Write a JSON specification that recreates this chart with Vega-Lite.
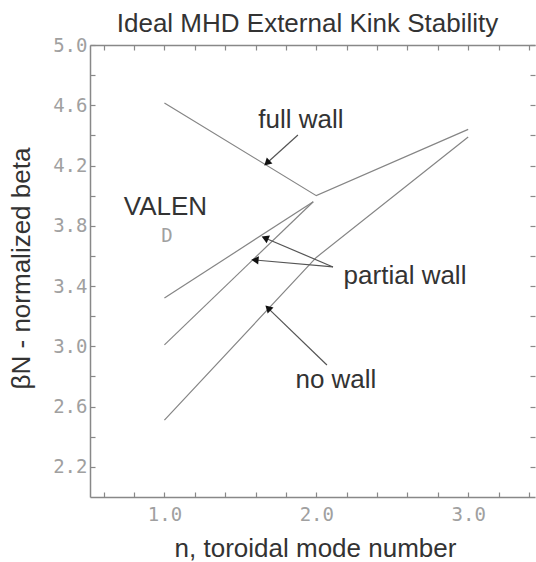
{
  "$schema": "https://vega.github.io/schema/vega-lite/v6.json",
  "width": 445,
  "height": 452,
  "autosize": "none",
  "padding": {"left": 90, "top": 45, "right": 1, "bottom": 65},
  "background": "white",
  "title": {"text": "Ideal MHD External Kink Stability", "fontSize": 26, "font": "Liberation Sans", "fontWeight": "normal", "color": "#333333", "frame": "group", "offset": -1, "dx": -5},
  "config": {"view": {"stroke": null}},
  "datasets": {
    "curves": [
      {"series": "full wall", "n": 1.0, "beta": 4.615},
      {"series": "full wall", "n": 2.0, "beta": 4.0},
      {"series": "full wall", "n": 3.0, "beta": 4.44},
      {"series": "partial wall A", "n": 1.0, "beta": 3.32},
      {"series": "partial wall A", "n": 1.98, "beta": 3.96},
      {"series": "partial wall B", "n": 1.0, "beta": 3.01},
      {"series": "partial wall B", "n": 1.98, "beta": 3.96},
      {"series": "no wall", "n": 1.0, "beta": 2.51},
      {"series": "no wall", "n": 2.0, "beta": 3.59},
      {"series": "no wall", "n": 3.0, "beta": 4.39}
    ],
    "arrows": [
      {"arrow": "full wall", "x0": 1.879, "y0": 4.403, "x1": 1.675, "y1": 4.217},
      {"arrow": "partial 1", "x0": 2.11, "y0": 3.527, "x1": 1.662, "y1": 3.719},
      {"arrow": "partial 2", "x0": 2.11, "y0": 3.527, "x1": 1.596, "y1": 3.573},
      {"arrow": "no wall", "x0": 2.07, "y0": 2.876, "x1": 1.682, "y1": 3.254}
    ],
    "labels": [
      {"text": "full wall", "n": 1.899, "beta": 4.502},
      {"text": "VALEN", "n": 1.007, "beta": 3.925},
      {"text": "partial wall", "n": 2.584, "beta": 3.467},
      {"text": "no wall", "n": 2.129, "beta": 2.777}
    ],
    "small": [
      {"text": "D", "n": 1.017, "beta": 3.732}
    ]
  },
  "layer": [
    {
      "data": {"name": "curves"},
      "mark": {"type": "line", "color": "#858585", "strokeWidth": 1.2},
      "encoding": {
        "x": {
          "field": "n", "type": "quantitative",
          "scale": {"domain": [0.51, 3.44], "nice": false, "zero": false},
          "axis": {
            "orient": "bottom",
            "title": "n, toroidal mode number",
            "titleFont": "Liberation Sans", "titleFontSize": 26, "titleFontWeight": "normal", "titleColor": "#333333",
            "titleBaseline": "alphabetic", "titleY": 59, "titleAnchor": "middle", "titleX": 225,
            "values": [0.6, 0.8, 1.0, 1.2, 1.4, 1.6, 1.8, 2.0, 2.2, 2.4, 2.6, 2.8, 3.0, 3.2, 3.4],
            "labelExpr": "(abs(datum.value-1)<0.01 || abs(datum.value-2)<0.01 || abs(datum.value-3)<0.01) ? format(datum.value, '.1f') : ''",
            "labelFont": "DejaVu Sans Mono", "labelFontSize": 19, "labelColor": "#a0a0a0",
            "labelPadding": 13, "tickSize": -5, "tickColor": "#888888", "tickWidth": 1.2,
            "domainColor": "#888888", "domainWidth": 1.5, "grid": false, "labelFlush": false, "labelOverlap": false
          }
        },
        "y": {
          "field": "beta", "type": "quantitative",
          "scale": {"domain": [2.0, 5.0], "nice": false, "zero": false},
          "axis": {
            "orient": "left",
            "title": "βN - normalized beta",
            "titleFont": "Liberation Sans", "titleFontSize": 26, "titleFontWeight": "normal", "titleColor": "#333333",
            "titleAngle": 270, "titleBaseline": "alphabetic", "titleX": -61, "titleY": 223, "titleAnchor": "middle",
            "values": [2.2, 2.4, 2.6, 2.8, 3.0, 3.2, 3.4, 3.6, 3.8, 4.0, 4.2, 4.4, 4.6, 4.8, 5.0],
            "labelExpr": "indexof(['2.2','2.6','3.0','3.4','3.8','4.2','4.6','5.0'], format(datum.value, '.1f')) >= 0 ? format(datum.value, '.1f') : ''",
            "labelFont": "DejaVu Sans Mono", "labelFontSize": 19, "labelColor": "#a0a0a0",
            "labelPadding": 8, "tickSize": -5, "tickColor": "#888888", "tickWidth": 1.2,
            "domainColor": "#888888", "domainWidth": 1.5, "grid": false, "labelFlush": false, "labelOverlap": false
          }
        },
        "detail": {"field": "series"}
      }
    },
    {
      "data": {"name": "arrows"},
      "mark": {"type": "rule", "color": "#555555", "strokeWidth": 1.2},
      "encoding": {
        "x": {"field": "x0", "type": "quantitative", "axis": null},
        "y": {"field": "y0", "type": "quantitative", "axis": null},
        "x2": {"field": "x1"},
        "y2": {"field": "y1"}
      }
    },
    {
      "data": {"name": "arrows"},
      "transform": [
        {"calculate": "atan2(datum.x1 - datum.x0, datum.y1 - datum.y0) * 180 / PI", "as": "ang"}
      ],
      "mark": {"type": "point", "shape": "triangle-up", "filled": true, "color": "#111111", "size": 70, "opacity": 1},
      "encoding": {
        "x": {"field": "x1", "type": "quantitative", "axis": null},
        "y": {"field": "y1", "type": "quantitative", "axis": null},
        "angle": {"field": "ang", "type": "quantitative", "scale": null}
      }
    },
    {
      "data": {"name": "labels"},
      "mark": {"type": "text", "font": "Liberation Sans", "fontSize": 26, "color": "#333333", "align": "center", "baseline": "middle"},
      "encoding": {
        "x": {"field": "n", "type": "quantitative", "axis": null},
        "y": {"field": "beta", "type": "quantitative", "axis": null},
        "text": {"field": "text"}
      }
    },
    {
      "data": {"name": "small"},
      "mark": {"type": "text", "font": "DejaVu Sans Mono", "fontSize": 19, "color": "#a0a0a0", "align": "center", "baseline": "middle"},
      "encoding": {
        "x": {"field": "n", "type": "quantitative", "axis": null},
        "y": {"field": "beta", "type": "quantitative", "axis": null},
        "text": {"field": "text"}
      }
    },
    {
      "data": {"name": "curves"},
      "mark": {"type": "point", "opacity": 0},
      "encoding": {
        "x": {
          "field": "n", "type": "quantitative",
          "axis": {
            "orient": "top", "title": null, "labels": false,
            "values": [0.6, 0.8, 1.0, 1.2, 1.4, 1.6, 1.8, 2.0, 2.2, 2.4, 2.6, 2.8, 3.0, 3.2, 3.4],
            "tickSize": -5, "tickColor": "#888888", "tickWidth": 1.2,
            "domainColor": "#888888", "domainWidth": 1.5, "grid": false
          }
        },
        "y": {
          "field": "beta", "type": "quantitative",
          "axis": {
            "orient": "right", "title": null, "labels": false,
            "values": [2.2, 2.4, 2.6, 2.8, 3.0, 3.2, 3.4, 3.6, 3.8, 4.0, 4.2, 4.4, 4.6, 4.8, 5.0],
            "tickSize": -5, "tickColor": "#888888", "tickWidth": 1.2,
            "domain": false, "grid": false
          }
        }
      }
    }
  ],
  "resolve": {"axis": {"x": "independent", "y": "independent"}}
}
